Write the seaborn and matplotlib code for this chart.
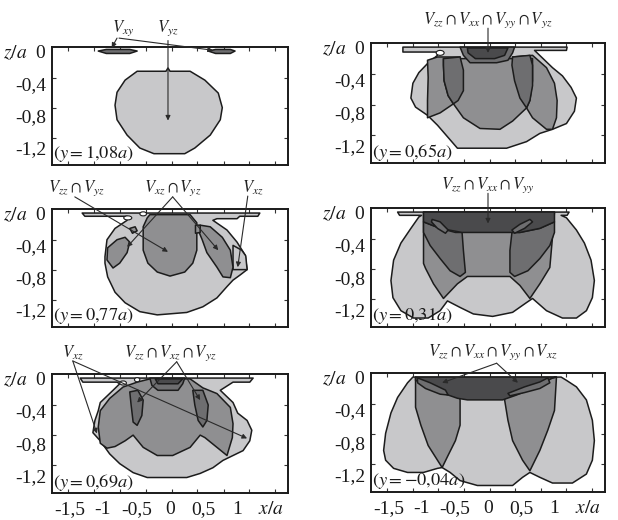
import numpy as np
import matplotlib
matplotlib.use("Agg")
import matplotlib.pyplot as plt
from matplotlib.patches import Ellipse
import seaborn as sns

sns.set_theme(style="white")
plt.rcParams["font.family"] = ["Liberation Serif", "DejaVu Serif"]
plt.rcParams["mathtext.fontset"] = "stix"

# grey levels of the nested domains
LIGHT = "#c8c8ca"
MID = "#8f8f91"
DARK = "#6e6e70"
DARKEST = "#4a4a4c"
EDGE = "#1c1c1c"

# axis ticks
x_ticks = [-1.5, -1, -0.5, 0, 0.5, 1, 1.5]
x_tick_labels = ["-1,5", "-1", "-0,5", "0", "0,5", "1", "$x/a$"]
z_ticks = [0, -0.4, -0.8, -1.2]
z_tick_labels = ["$z/a$  0", "-0,4", "-0,8", "-1,2"]
x_minor = [-1.52, -1.13, -0.75, -0.36, 0.03, 0.41, 0.80, 1.18, 1.57]
z_minor = [-0.33, -0.70, -1.07]

# ---- slice y = 1,08a ----
p1_outer = [(-0.49, -0.25), (-0.06, -0.25), (-0.03, -0.21), (0.0, -0.25), (0.30, -0.25),
            (0.52, -0.36), (0.72, -0.52), (0.78, -0.70), (0.75, -0.85), (0.60, -1.04),
            (0.37, -1.20), (0.22, -1.27), (-0.24, -1.27), (-0.45, -1.20), (-0.64, -1.04),
            (-0.79, -0.85), (-0.82, -0.67), (-0.79, -0.51), (-0.67, -0.36)]
p1_lens_left = [(-1.07, 0.0), (-0.95, 0.02), (-0.60, 0.02), (-0.49, 0.0), (-0.60, -0.03), (-0.95, -0.03)]
p1_lens_right = [(0.57, 0.0), (0.68, 0.02), (0.90, 0.02), (0.97, 0.0), (0.90, -0.03), (0.68, -0.03)]

# ---- slice y = 0,65a ----
p2_outer = [(-1.28, 0.0), (1.19, 0.0), (1.18, -0.04), (0.70, -0.04), (0.97, -0.25), (1.12, -0.35),
            (1.25, -0.49), (1.33, -0.62), (1.30, -0.78), (1.18, -0.93), (0.97, -1.00),
            (0.78, -1.05), (0.58, -1.15), (0.28, -1.23), (-0.46, -1.23), (-0.61, -1.09),
            (-0.76, -0.95), (-0.91, -0.83), (-1.09, -0.73), (-1.16, -0.62), (-1.13, -0.44),
            (-1.04, -0.31), (-0.91, -0.20), (-0.76, -0.10), (-0.76, -0.06), (-1.28, -0.06)]
p2_lobe_left = [(-0.91, -0.16), (-0.76, -0.12), (-0.42, -0.12), (-0.37, -0.28), (-0.37, -0.53),
                (-0.45, -0.65), (-0.52, -0.69), (-0.72, -0.80), (-0.91, -0.86), (-0.91, -0.65),
                (-0.90, -0.37)]
p2_lobe_right = [(0.37, -0.12), (0.67, -0.10), (0.88, -0.25), (1.00, -0.44), (1.04, -0.65),
                 (1.03, -0.86), (0.97, -1.00), (0.88, -1.00), (0.67, -0.86), (0.58, -0.74),
                 (0.48, -0.62), (0.40, -0.41), (0.36, -0.22)]
p2_centre = [(-0.67, -0.14), (0.67, -0.14), (0.67, -0.41), (0.63, -0.65), (0.58, -0.74),
             (0.37, -0.90), (0.18, -1.00), (-0.12, -0.99), (-0.37, -0.86), (-0.52, -0.69),
             (-0.60, -0.59), (-0.66, -0.41), (-0.67, -0.22)]
p2_strip_left = [(-0.67, -0.14), (-0.42, -0.12), (-0.37, -0.28), (-0.37, -0.53), (-0.45, -0.65),
                 (-0.52, -0.69), (-0.60, -0.59), (-0.66, -0.41), (-0.67, -0.22)]
p2_strip_right = [(0.37, -0.12), (0.63, -0.10), (0.67, -0.22), (0.67, -0.47), (0.63, -0.65),
                  (0.58, -0.74), (0.48, -0.62), (0.40, -0.41), (0.36, -0.22)]
p2_cap = [(-0.42, 0.0), (0.40, 0.0), (0.37, -0.07), (0.30, -0.16), (0.13, -0.19), (-0.27, -0.19),
          (-0.37, -0.10)]
p2_core = [(-0.31, -0.01), (0.30, -0.01), (0.25, -0.10), (0.10, -0.14), (-0.19, -0.14), (-0.30, -0.07)]

# ---- slice y = 0,77a ----
p3_outer = [(-1.31, 0.0), (1.34, 0.0), (1.31, -0.04), (1.04, -0.04), (1.00, -0.07), (0.70, -0.07),
            (0.64, -0.09), (0.85, -0.21), (1.00, -0.36), (1.12, -0.52), (1.15, -0.70),
            (1.04, -0.77), (0.94, -0.83), (0.85, -0.91), (0.70, -1.05), (0.49, -1.16),
            (0.25, -1.23), (-0.19, -1.26), (-0.45, -1.22), (-0.67, -1.11), (-0.82, -0.98),
            (-0.93, -0.79), (-0.97, -0.62), (-0.97, -0.54), (-0.94, -0.33), (-0.82, -0.19),
            (-0.64, -0.09), (-0.64, -0.04), (-1.27, -0.04)]
p3_centre = [(-0.30, -0.02), (0.30, -0.02), (0.40, -0.12), (0.40, -0.46), (0.34, -0.62),
             (0.22, -0.73), (0.0, -0.78), (-0.19, -0.73), (-0.33, -0.62), (-0.40, -0.46),
             (-0.40, -0.17), (-0.34, -0.06)]
p3_blob_left = [(-0.67, -0.30), (-0.60, -0.36), (-0.64, -0.49), (-0.75, -0.62), (-0.85, -0.68),
                (-0.94, -0.58), (-0.93, -0.43), (-0.79, -0.33)]
p3_dot_left = [(-0.60, -0.19), (-0.52, -0.17), (-0.49, -0.22), (-0.56, -0.25)]
p3_blob_right = [(0.45, -0.15), (0.60, -0.17), (0.78, -0.30), (0.90, -0.46), (0.94, -0.67),
                 (0.90, -0.80), (0.79, -0.79), (0.70, -0.67), (0.55, -0.49), (0.48, -0.33),
                 (0.43, -0.23)]
p3_dot_right = [(0.38, -0.15), (0.45, -0.15), (0.45, -0.24), (0.38, -0.25)]
p3_sliver = [(0.94, -0.40), (1.07, -0.46), (1.13, -0.53), (1.15, -0.70), (0.94, -0.70)]

# ---- slice y = 0,31a ----
p4_outer = [(-1.36, 0.0), (1.22, 0.0), (1.19, -0.04), (1.10, -0.04), (1.18, -0.07), (1.33, -0.22),
            (1.45, -0.38), (1.55, -0.59), (1.60, -0.84), (1.57, -1.05), (1.48, -1.21),
            (1.33, -1.30), (1.12, -1.30), (0.88, -1.21), (0.67, -1.06), (0.58, -1.11),
            (0.37, -1.23), (0.07, -1.28), (-0.22, -1.25), (-0.42, -1.17), (-0.61, -1.09),
            (-0.72, -1.21), (-0.90, -1.30), (-1.12, -1.30), (-1.31, -1.21), (-1.43, -1.05),
            (-1.46, -0.84), (-1.42, -0.59), (-1.31, -0.38), (-1.16, -0.20), (-1.04, -0.06),
            (-1.00, -0.04), (-1.33, -0.04)]
p4_inner = [(-0.97, 0.0), (1.00, 0.0), (0.97, -0.31), (0.93, -0.68), (0.78, -0.88), (0.63, -1.06),
            (0.48, -0.90), (0.33, -0.79), (-0.31, -0.79), (-0.46, -0.88), (-0.67, -1.06),
            (-0.82, -0.88), (-0.94, -0.69), (-0.97, -0.63)]
p4_side_left = [(-0.97, -0.12), (-0.72, -0.20), (-0.49, -0.25), (-0.39, -0.25), (-0.37, -0.47),
                (-0.34, -0.74), (-0.42, -0.79), (-0.57, -0.72), (-0.72, -0.57), (-0.87, -0.41),
                (-0.97, -0.25)]
p4_side_right = [(1.00, -0.12), (0.78, -0.20), (0.48, -0.25), (0.36, -0.25), (0.33, -0.47),
                 (0.33, -0.74), (0.40, -0.79), (0.60, -0.72), (0.78, -0.57), (0.93, -0.41),
                 (1.00, -0.25)]
p4_cap = [(-0.97, 0.0), (1.00, 0.0), (1.00, -0.12), (0.78, -0.20), (0.48, -0.25), (-0.39, -0.25),
          (-0.72, -0.20), (-0.97, -0.12)]
p4_fleck_left = [(-0.84, -0.09), (-0.72, -0.12), (-0.60, -0.22), (-0.64, -0.26), (-0.76, -0.20),
                 (-0.85, -0.12)]
p4_fleck_right = [(0.63, -0.09), (0.48, -0.15), (0.36, -0.22), (0.40, -0.26), (0.55, -0.20),
                  (0.67, -0.12)]

# ---- slice y = 0,69a ----
p5_outer = [(-1.34, 0.0), (1.24, 0.0), (1.19, -0.05), (0.94, -0.05), (0.75, -0.15), (0.94, -0.30),
            (1.01, -0.43), (1.15, -0.52), (1.22, -0.64), (1.19, -0.77), (1.09, -0.89),
            (0.94, -0.95), (0.79, -1.01), (0.64, -1.10), (0.45, -1.17), (0.25, -1.22),
            (-0.34, -1.22), (-0.55, -1.16), (-0.75, -1.05), (-0.90, -0.93), (-1.04, -0.77),
            (-1.15, -0.67), (-1.12, -0.52), (-1.07, -0.40), (-1.04, -0.30), (-0.85, -0.15),
            (-0.75, -0.07), (-0.79, -0.05), (-1.30, -0.05)]
p5_main = [(-0.70, -0.11), (-0.49, -0.05), (-0.30, -0.01), (0.30, -0.01), (0.49, -0.12),
           (0.70, -0.19), (0.90, -0.36), (0.94, -0.56), (0.93, -0.73), (0.85, -0.95),
           (0.67, -0.83), (0.52, -0.73), (0.45, -0.70), (0.30, -0.85), (0.04, -0.95),
           (-0.19, -0.95), (-0.40, -0.85), (-0.55, -0.70), (-0.67, -0.77), (-0.82, -0.84),
           (-0.94, -0.86), (-1.04, -0.80), (-1.07, -0.60), (-1.04, -0.40), (-0.90, -0.25)]
p5_strip_left = [(-0.60, -0.17), (-0.48, -0.15), (-0.40, -0.27), (-0.42, -0.46), (-0.49, -0.58),
                 (-0.55, -0.54), (-0.58, -0.33)]
p5_strip_right = [(0.34, -0.15), (0.49, -0.15), (0.57, -0.33), (0.55, -0.52), (0.49, -0.60),
                  (0.42, -0.52), (0.37, -0.33)]
p5_cap = [(-0.30, 0.0), (0.22, 0.0), (0.19, -0.07), (0.12, -0.15), (-0.18, -0.15), (-0.27, -0.09)]
p5_core = [(-0.22, -0.01), (0.19, -0.01), (0.12, -0.07), (-0.18, -0.07)]

# ---- slice y = -0,04a ----
p6_outer = [(-1.13, 0.0), (1.10, 0.0), (1.18, -0.04), (1.33, -0.12), (1.48, -0.28), (1.57, -0.53),
            (1.60, -0.78), (1.57, -1.02), (1.48, -1.19), (1.27, -1.30), (0.97, -1.30),
            (0.78, -1.23), (0.63, -1.17), (0.52, -1.23), (0.37, -1.33), (-0.16, -1.33),
            (-0.42, -1.27), (-0.57, -1.17), (-0.69, -1.11), (-0.76, -1.12), (-0.97, -1.17),
            (-1.21, -1.17), (-1.42, -1.12), (-1.54, -1.02), (-1.57, -0.90), (-1.54, -0.69),
            (-1.46, -0.44), (-1.36, -0.25), (-1.21, -0.07)]
p6_wedge_left = [(-1.09, 0.0), (-1.09, -0.37), (-1.01, -0.59), (-0.90, -0.84), (-0.76, -1.02),
                 (-0.69, -1.11), (-0.60, -0.96), (-0.49, -0.78), (-0.42, -0.59), (-0.42, -0.28),
                 (-0.45, -0.19)]
p6_wedge_right = [(1.03, 0.0), (1.00, -0.41), (0.90, -0.65), (0.78, -0.90), (0.63, -1.15),
                  (0.52, -1.02), (0.37, -0.78), (0.30, -0.53), (0.25, -0.28), (0.28, -0.16)]
p6_cap = [(-1.09, 0.0), (1.03, 0.0), (0.97, -0.01), (0.73, -0.12), (0.43, -0.22), (0.22, -0.28),
          (-0.31, -0.28), (-0.46, -0.26), (-0.67, -0.20), (-1.09, -0.04)]
p6_fleck_left = [(-1.06, -0.01), (-0.87, -0.07), (-0.64, -0.16), (-0.60, -0.22), (-0.72, -0.21),
                 (-0.94, -0.14), (-1.06, -0.07)]
p6_fleck_right = [(0.90, -0.01), (0.78, -0.06), (0.55, -0.12), (0.30, -0.20), (0.33, -0.23),
                  (0.55, -0.19), (0.78, -0.14), (0.93, -0.07)]

# slice labels, regions (drawn back to front), voids, and annotations
panels = [
    dict(slice_label=r"$(y = 1{,}08a)$",
         regions=[(p1_outer, LIGHT), (p1_lens_left, DARK), (p1_lens_right, DARK)],
         voids=[],
         texts=[(r"$V_{xy}$", (-0.70, 0.28)), (r"$V_{yz}$", (-0.03, 0.28))],
         arrows=[((-0.79, 0.16), (-0.87, 0.04)), ((-0.76, 0.16), (0.64, 0.01)),
                 ((-0.03, 0.13), (-0.03, -0.86))]),
    dict(slice_label=r"$(y = 0{,}65a)$",
         regions=[(p2_outer, LIGHT), (p2_lobe_left, MID), (p2_lobe_right, MID), (p2_centre, MID),
                  (p2_strip_left, DARK), (p2_strip_right, DARK), (p2_cap, DARK), (p2_core, DARKEST)],
         voids=[(-0.72, -0.07, 0.12, 0.06)],
         texts=[(r"$V_{zz}\cap V_{xx}\cap V_{yy}\cap V_{yz}$", (0.0, 0.33))],
         arrows=[((0.0, 0.23), (0.0, -0.07))]),
    dict(slice_label=r"$(y = 0{,}77a)$",
         regions=[(p3_outer, LIGHT), (p3_sliver, LIGHT), (p3_centre, MID), (p3_blob_left, MID),
                  (p3_dot_left, MID), (p3_blob_right, MID), (p3_dot_right, MID)],
         voids=[(-0.63, -0.06, 0.12, 0.05), (-0.40, -0.01, 0.10, 0.05)],
         texts=[(r"$V_{zz}\cap V_{yz}$", (-1.39, 0.31)), (r"$V_{xz}\cap V_{yz}$", (0.04, 0.31)),
                (r"$V_{xz}$", (1.24, 0.31))],
         arrows=[((-1.42, 0.20), (-0.03, -0.48)), ((0.04, 0.20), (-0.64, -0.42)),
                 ((0.04, 0.20), (0.72, -0.46)), ((1.16, 0.21), (1.01, -0.67))]),
    dict(slice_label=r"$(y = 0{,}31a)$",
         regions=[(p4_outer, LIGHT), (p4_inner, MID), (p4_side_left, DARK), (p4_side_right, DARK),
                  (p4_cap, DARKEST), (p4_fleck_left, DARK), (p4_fleck_right, DARK)],
         voids=[],
         texts=[(r"$V_{zz}\cap V_{xx}\cap V_{yy}$", (0.0, 0.33))],
         arrows=[((0.0, 0.23), (0.0, -0.14))]),
    dict(slice_label=r"$(y = 0{,}69a)$",
         regions=[(p5_outer, LIGHT), (p5_main, MID), (p5_strip_left, DARK), (p5_strip_right, DARK),
                  (p5_cap, DARK), (p5_core, DARKEST)],
         voids=[(-0.70, -0.06, 0.10, 0.05), (-0.49, -0.02, 0.08, 0.05)],
         texts=[(r"$V_{xz}$", (-1.45, 0.31)), (r"$V_{zz}\cap V_{xz}\cap V_{yz}$", (0.0, 0.31))],
         arrows=[((-1.45, 0.21), (-1.09, -0.68)), ((-1.45, 0.21), (1.15, -0.74)),
                 ((0.10, 0.20), (-0.49, -0.30)), ((0.10, 0.20), (0.45, -0.27))]),
    dict(slice_label=r"$(y = -0{,}04a)$",
         regions=[(p6_outer, LIGHT), (p6_wedge_left, MID), (p6_wedge_right, MID), (p6_cap, DARKEST),
                  (p6_fleck_left, DARK), (p6_fleck_right, DARK)],
         voids=[],
         texts=[(r"$V_{zz}\cap V_{xx}\cap V_{yy}\cap V_{xz}$", (0.07, 0.30))],
         arrows=[((0.13, 0.17), (-0.69, -0.07)), ((0.13, 0.17), (0.45, -0.07))]),
]

W, H = 618, 520
fig = plt.figure(figsize=(W / 100, H / 100), dpi=100)
fig.patch.set_facecolor("white")

# frame boxes in pixels: (left, top, right, bottom)
boxes = [(52, 47, 288, 165), (371, 43, 605, 163),
         (52, 209, 288, 327), (371, 208, 605, 327),
         (52, 374, 288, 493), (371, 373, 605, 492)]

for i, (panel, box) in enumerate(zip(panels, boxes)):
    l, t, r, b = box
    ax = fig.add_axes([l / W, 1 - b / H, (r - l) / W, (b - t) / H])
    ax.set_facecolor("white")
    ax.set_xlim(-1.76, 1.76)
    ax.set_ylim(-1.41, 0.05)

    for pts, shade in panel["regions"]:
        arr = np.asarray(pts)
        ax.fill(arr[:, 0], arr[:, 1], facecolor=shade, edgecolor=EDGE, linewidth=1.1,
                joinstyle="round", zorder=2)
    for cx, cz, w, h in panel["voids"]:
        ax.add_patch(Ellipse((cx, cz), w, h, facecolor="white", edgecolor=EDGE, lw=0.8, zorder=3))

    for txt, (tx, tz) in panel["texts"]:
        ax.text(tx, tz, txt, ha="center", va="center", fontsize=12, color="#222222",
                clip_on=False, zorder=5)
    for (sx, sz), (ex, ez) in panel["arrows"]:
        ax.annotate("", xy=(ex, ez), xytext=(sx, sz), annotation_clip=False, zorder=6,
                    arrowprops=dict(arrowstyle="-|>", lw=0.8, color="#2a2a2a",
                                    mutation_scale=7, shrinkA=0, shrinkB=0))

    ax.text(0.006, 0.09, panel["slice_label"], transform=ax.transAxes, ha="left",
            va="center", fontsize=13.2, color="#1a1a1a", zorder=7)

    ax.set_yticks(z_ticks)
    ax.set_yticklabels(z_tick_labels, fontsize=14)
    ax.set_xticks(x_ticks)
    if i >= 4:
        ax.set_xticklabels(x_tick_labels, fontsize=14)
    else:
        ax.set_xticklabels([])
    ax.set_xticks(x_minor, minor=True)
    ax.set_yticks(z_minor, minor=True)
    ax.tick_params(which="major", length=0, pad=4, colors="#1a1a1a")
    ax.tick_params(axis="x", which="major", pad=6)
    ax.tick_params(which="minor", direction="in", length=3, width=0.8, color="#333333",
                   top=True, bottom=True, left=True, right=True)
    for side in ax.spines.values():
        side.set_visible(True)
        side.set_color("#1a1a1a")
        side.set_linewidth(1.4)
    ax.grid(False)

fig.savefig("out.png", dpi=100, facecolor="white")
